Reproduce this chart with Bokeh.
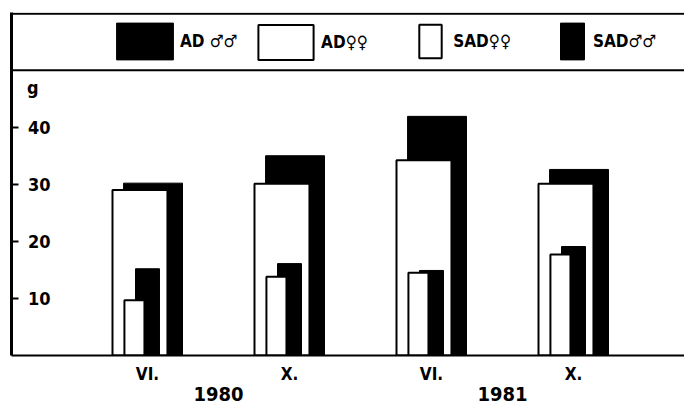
import numpy as np
from bokeh.plotting import figure
from bokeh.models import (Range1d, FixedTicker, LinearAxis, Span, Legend, LegendItem)
from bokeh.core.properties import value
from bokeh.embed import file_html
from bokeh.resources import INLINE

# ---- data ----
months = ["VI.", "X.", "VI.", "X."]
years = ["1980", "1981"]
ad_males = [30.2, 35.0, 41.9, 32.6]
ad_females = [29.0, 30.1, 34.2, 30.1]
sad_females = [9.7, 13.8, 14.5, 17.7]
sad_males = [15.2, 16.1, 14.9, 19.1]
y_ticks = [10, 20, 30, 40]
unit_label = "g"
unit_label_y = 47
legend_labels = ["AD \u2642\u2642", "AD\u2640\u2640", "SAD\u2640\u2640", "SAD\u2642\u2642"]

FONT = "DejaVu Sans Condensed"
PX = 142.0          # screen px per group
C0 = 147.0          # screen x of first group centre
FL = 11             # frame left (screen px)


def dx(sx):
    return (sx - C0) / PX


p = figure(width=684, height=408, output_backend="svg", toolbar_location=None,
           x_range=Range1d(dx(FL), dx(684)), y_range=Range1d(0, 60.1),
           min_border_left=FL, min_border_right=0, min_border_top=12, min_border_bottom=53,
           background_fill_color="white", border_fill_color="white")
p.outline_line_color = None
p.grid.visible = False

xs = np.arange(len(months))

r_adm = p.vbar(x=xs + 0.039, width=0.415, top=ad_males,
               fill_color="black", line_color="black", line_width=1)
r_adf = p.vbar(x=xs - 0.053, width=0.387, top=ad_females,
               fill_color="white", line_color="black", line_width=2)
r_sadm = p.vbar(x=xs, width=0.169, top=sad_males,
                fill_color="black", line_color="black", line_width=1)
r_sadf = p.vbar(x=xs - 0.092, width=0.141, top=sad_females,
                fill_color="white", line_color="black", line_width=2)

# frame lines
p.add_layout(Span(location=59.9, dimension="width", line_color="black", line_width=2))
p.add_layout(Span(location=50.0, dimension="width", line_color="black", line_width=2))

# x axis (baseline) with month labels
xa = p.xaxis[0]
xa.ticker = FixedTicker(ticks=list(xs))
xa.major_label_overrides = {int(i): m for i, m in zip(xs, months)}
xa.axis_line_width = 2
xa.major_tick_in = 0
xa.major_tick_out = 0
xa.minor_tick_in = 0
xa.minor_tick_out = 0
xa.major_label_standoff = 8
xa.major_label_text_font = FONT
xa.major_label_text_font_style = "bold"
xa.major_label_text_font_size = "17px"
xa.major_label_text_color = "black"

# year labels on a second axis below the month labels
xy = LinearAxis(ticker=FixedTicker(ticks=[0.5, 2.5]),
                major_label_overrides={0.5: years[0], 2.5: years[1]},
                axis_line_color=None, major_tick_in=0, major_tick_out=0,
                minor_tick_in=0, minor_tick_out=0, major_label_standoff=0,
                major_label_text_font=FONT, major_label_text_font_style="bold",
                major_label_text_font_size="20px", major_label_text_color="black")
p.add_layout(xy, "below")

# left border line with inward ticks
yb = p.yaxis[0]
yb.ticker = FixedTicker(ticks=y_ticks)
yb.major_label_overrides = {t: "" for t in y_ticks}
yb.major_label_standoff = 0
yb.axis_line_width = 3
yb.axis_line_color = "black"
yb.major_tick_in = 7
yb.major_tick_out = 0
yb.major_tick_line_width = 2
yb.major_tick_line_color = "black"
yb.minor_tick_in = 0
yb.minor_tick_out = 0

# tick labels inside the frame (as text placed through the scales)
p.text(x=[dx(50)] * len(y_ticks), y=y_ticks, text=[str(t) for t in y_ticks],
       text_align="right", text_baseline="middle", text_font=value(FONT),
       text_font_style="bold", text_font_size="18px", text_color="black")
p.text(x=[dx(38)], y=[unit_label_y], text=[unit_label],
       text_align="right", text_baseline="middle", text_font=value(FONT),
       text_font_style="bold", text_font_size="18px", text_color="black")


def add_legend(renderer, label, gw, gh, x, y, standoff):
    lg = Legend(items=[LegendItem(label=label, renderers=[renderer])],
                location=(x, y), glyph_width=gw, glyph_height=gh,
                label_standoff=standoff, padding=0, margin=0, spacing=0,
                border_line_color=None, background_fill_alpha=0,
                label_text_font=FONT, label_text_font_style="bold",
                label_text_font_size="17px", label_text_color="black")
    p.add_layout(lg)


add_legend(r_adm, legend_labels[0], 71, 46, 97.9, 290.6, 0)
add_legend(r_adf, legend_labels[1], 69, 44, 240.1, 291.4, 1)
add_legend(r_sadf, legend_labels[2], 28, 42, 405.2, 293.2, 9)
add_legend(r_sadm, legend_labels[3], 30, 46, 546.0, 290.6, 6)

open("out.html", "w").write(file_html(p, INLINE))
